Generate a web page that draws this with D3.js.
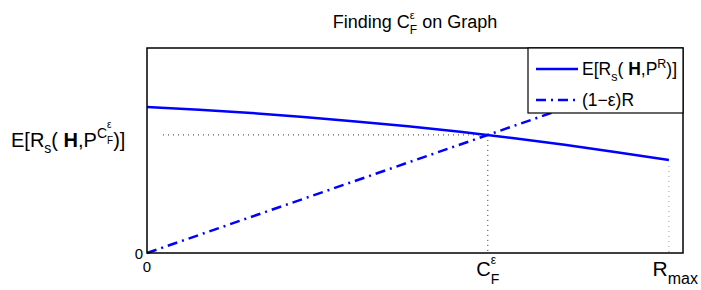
<!DOCTYPE html>
<html>
<head>
<meta charset="utf-8">
<script src="https://cdn.jsdelivr.net/npm/d3@7"></script>
<style>
  body { margin: 0; background: #fff; }
  text { font-family: "Liberation Sans", Arial, sans-serif; fill: #000; white-space: pre; }
</style>
</head>
<body>
<div id="chart"></div>
<script>
// Data (R normalised so that R_max = 1)
const rValues = [0, 0.1, 0.2, 0.3, 0.4, 0.5, 0.6, 0.7, 0.8, 0.9, 1.0];
const capacity = [0.712, 0.699, 0.683, 0.664, 0.642, 0.618, 0.591, 0.561, 0.528, 0.492, 0.454];
const outageR = [0, 1.0];
const outageVals = [0, 0.882];
const cF = 0.653;
const cFValue = 0.576;
const rMax = 1.0;

const W = 701, H = 290;
const margin = { top: 48, right: 18, bottom: 37, left: 147 };

const svg = d3.select('#chart').append('svg')
    .attr('width', W)
    .attr('height', H);

const x = d3.scaleLinear().domain([0, 1.027]).range([margin.left, W - margin.right]);
const y = d3.scaleLinear().domain([0, 1]).range([H - margin.bottom, margin.top]);

// draws text pieces with sub/superscripts, stacked pieces share one x
function rich(parent, px, py, parts, anchor) {
    const g = parent.append('g');
    let cx = 0, stackW = 0;
    parts.forEach(p => {
        const t = g.append('text')
            .attr('x', cx)
            .attr('y', p.dy || 0)
            .style('font-size', p.size + 'px')
            .style('font-weight', p.bold ? 'bold' : null)
            .text(p.t);
        const w = t.node().getComputedTextLength();
        if (p.stack) {
            stackW = w;
        } else {
            cx += Math.max(w, stackW);
            stackW = 0;
        }
    });
    let shift = 0;
    if (anchor === 'middle') shift = cx / 2;
    if (anchor === 'end') shift = cx;
    g.attr('transform', `translate(${px - shift},${py})`);
    return g;
}

// Title
rich(svg, (x.range()[0] + x.range()[1]) / 2, 28, [
    { t: 'Finding C', size: 18 },
    { t: 'ε', size: 11, dy: -9, stack: true },
    { t: 'F', size: 12, dy: 6 },
    { t: '\u00A0on Graph', size: 18 }
], 'middle');

// Dotted guide lines
const dotted = svg.append('g')
    .attr('stroke', '#333')
    .attr('stroke-width', 1)
    .attr('stroke-dasharray', '1,4')
    .attr('fill', 'none');

dotted.append('line')
    .attr('x1', x(0) + 16).attr('x2', x(cF))
    .attr('y1', y(cFValue)).attr('y2', y(cFValue));
dotted.append('line')
    .attr('x1', x(cF)).attr('x2', x(cF))
    .attr('y1', y(cFValue)).attr('y2', y(0));
dotted.append('line')
    .attr('x1', x(rMax)).attr('x2', x(rMax))
    .attr('y1', y(capacity[capacity.length - 1]) + 6).attr('y2', y(0))
    .attr('stroke', '#999');

// Capacity curve
const line = d3.line().x(d => x(d[0])).y(d => y(d[1]));
svg.append('path')
    .datum(rValues.map((r, i) => [r, capacity[i]]))
    .attr('d', line)
    .attr('fill', 'none')
    .attr('stroke', '#0000ff')
    .attr('stroke-width', 2.5);

// (1-eps)R line
svg.append('path')
    .datum(outageR.map((r, i) => [r, outageVals[i]]))
    .attr('d', line)
    .attr('fill', 'none')
    .attr('stroke', '#0000ff')
    .attr('stroke-width', 2.5)
    .attr('stroke-dasharray', '10,5,2,5');

// Frame
svg.append('rect')
    .attr('x', x.range()[0])
    .attr('y', y.range()[1])
    .attr('width', x.range()[1] - x.range()[0])
    .attr('height', y.range()[0] - y.range()[1])
    .attr('fill', 'none')
    .attr('stroke', '#000')
    .attr('stroke-width', 1.5);

// Tick labels
svg.append('text')
    .attr('x', x(0) - 4).attr('y', y(0) + 6)
    .attr('text-anchor', 'end')
    .style('font-size', '15px')
    .text('0');
svg.append('text')
    .attr('x', x(0)).attr('y', y(0) + 19)
    .attr('text-anchor', 'middle')
    .style('font-size', '15px')
    .text('0');

rich(svg, x(cF), 276, [
    { t: 'C', size: 20 },
    { t: 'ε', size: 12, dy: -12, stack: true },
    { t: 'F', size: 14, dy: 8 }
], 'middle');

rich(svg, 698, 276, [
    { t: 'R', size: 21 },
    { t: 'max', size: 16, dy: 8 }
], 'end');

// Y label
rich(svg, 11, 147, [
    { t: 'E[R', size: 20 },
    { t: 's', size: 14, dy: 6 },
    { t: '( ', size: 20 },
    { t: 'H', size: 20, bold: true },
    { t: ',P', size: 20 },
    { t: 'C', size: 14, dy: -9 },
    { t: 'ε', size: 10, dy: -19, stack: true },
    { t: 'F', size: 10, dy: -3 },
    { t: ')]', size: 20 }
], 'start');

// Legend
const leg = svg.append('g');
leg.append('rect')
    .attr('x', 528).attr('y', y.range()[1])
    .attr('width', x.range()[1] - 528)
    .attr('height', 65)
    .attr('fill', '#fff')
    .attr('stroke', '#000')
    .attr('stroke-width', 1.2);

leg.append('line')
    .attr('x1', 536).attr('x2', 578)
    .attr('y1', 69).attr('y2', 69)
    .attr('stroke', '#0000ff').attr('stroke-width', 2.5);
rich(leg, 582, 75, [
    { t: 'E[R', size: 17.5 },
    { t: 's', size: 12.5, dy: 6 },
    { t: '( ', size: 17.5 },
    { t: 'H', size: 17.5, bold: true },
    { t: ',P', size: 17.5 },
    { t: 'R', size: 12.5, dy: -7 },
    { t: ')]', size: 17.5 }
], 'start');

leg.append('line')
    .attr('x1', 536).attr('x2', 578)
    .attr('y1', 100).attr('y2', 100)
    .attr('stroke', '#0000ff').attr('stroke-width', 2.5)
    .attr('stroke-dasharray', '10,5,2,5');
rich(leg, 582, 106, [
    { t: '(1−ε)R', size: 17.5 }
], 'start');
</script>
</body>
</html>
